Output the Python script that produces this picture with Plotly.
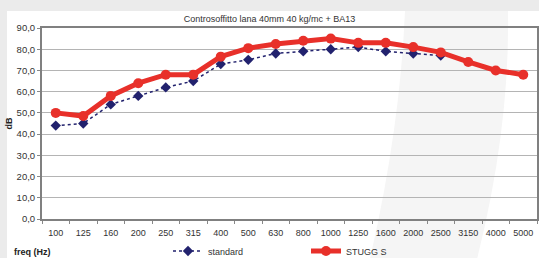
import plotly.graph_objects as go

freqs = ["100", "125", "160", "200", "250", "315", "400", "500", "630", "800",
         "1000", "1250", "1600", "2000", "2500", "3150", "4000", "5000"]
standard = [44, 45, 54, 58, 62, 65, 73, 75, 78, 79, 80, 81, 79, 78, 77]
stugg = [50, 48.5, 58, 64, 68, 68, 76.5, 80.5, 82.5, 84, 85, 83, 83, 81, 78.5, 74, 70, 68]
y_ticks = [0, 10, 20, 30, 40, 50, 60, 70, 80, 90]
y_labels = [f"{v:.1f}".replace(".", ",") for v in y_ticks]

FONT = "Arial, Liberation Sans, sans-serif"

fig = go.Figure()
fig.add_trace(go.Scatter(
    x=freqs[:len(standard)], y=standard, name="standard", mode="lines+markers",
    line=dict(color="#22226e", width=1.5, dash="dot"),
    marker=dict(symbol="diamond", size=8, color="#22226e"),
))
fig.add_trace(go.Scatter(
    x=freqs, y=stugg, name="STUGG S", mode="lines+markers",
    line=dict(color="#e8302a", width=5),
    marker=dict(symbol="circle", size=10, color="#e8302a"),
))

L, R, T, B = 42, 2, 28, 39
W, H = 539, 258
pw, ph = W - L - R, H - T - B

def px(x):
    return (x - L) / pw

def py(y):
    return (H - B - y) / ph

shapes = [
    dict(type="rect", xref="paper", yref="paper", layer="below",
         x0=px(7), x1=px(W + 5), y0=py(H + 5), y1=py(11),
         fillcolor="white", line=dict(width=0)),
    dict(type="path", xref="paper", yref="paper", layer="below",
         path=(f"M {px(405)},{py(11)} L {px(508)},{py(11)} "
               f"Q {px(510)},{py(130)} {px(476)},{py(H + 5)} "
               f"L {px(369)},{py(H + 5)} Q {px(400)},{py(130)} {px(405)},{py(11)} Z"),
         fillcolor="#f5f5f5", line=dict(width=0)),
]

fig.update_layout(
    width=W, height=H,
    margin=dict(l=L, r=R, t=T, b=B, autoexpand=False),
    paper_bgcolor="#ebebeb",
    plot_bgcolor="rgba(0,0,0,0)",
    font=dict(family=FONT, size=9, color="#333333"),
    title=dict(text="Controsoffitto lana 40mm 40 kg/mc + BA13", x=0.5, xanchor="center",
               y=1 - 19 / H, yanchor="middle", font=dict(size=9, color="#333333")),
    shapes=shapes,
    showlegend=True,
    legend=dict(orientation="h", x=px(168), xanchor="left", y=py(251), yanchor="middle",
                bgcolor="rgba(0,0,0,0)", font=dict(size=9, color="#333333"),
                entrywidth=93, entrywidthmode="pixels", itemwidth=30),
    annotations=[
        dict(text="<b>freq (Hz)</b>", xref="paper", yref="paper", x=px(12), y=py(252),
             xanchor="left", yanchor="middle", showarrow=False, font=dict(size=9, color="#222")),
    ],
)
fig.update_xaxes(
    type="category", categoryorder="array", categoryarray=freqs,
    range=[-0.5, len(freqs) - 0.5], tickangle=0, automargin=False,
    showgrid=False, ticks="outside", tickson="boundaries", ticklen=3,
    ticklabelstandoff=4,
    tickcolor="#888888", showline=True, linecolor="#808080", linewidth=2, mirror=True,
    tickfont=dict(size=9, color="#333333"), zeroline=False,
)
fig.update_yaxes(
    range=[0, 90], tickvals=y_ticks, ticktext=y_labels, automargin=False,
    showgrid=True, gridcolor="#b4b4b4", gridwidth=1,
    ticks="outside", ticklen=3, tickcolor="#888888",
    showline=True, linecolor="#808080", linewidth=2, mirror=True,
    tickfont=dict(size=9.5, color="#333333"), zeroline=False,
    title=dict(text="<b>dB</b>", standoff=2, font=dict(size=9, color="#222")),
)

fig.write_html("out.html", config={"displayModeBar": False},
               post_script="document.body.style.margin='0';document.body.style.overflow='hidden';")
